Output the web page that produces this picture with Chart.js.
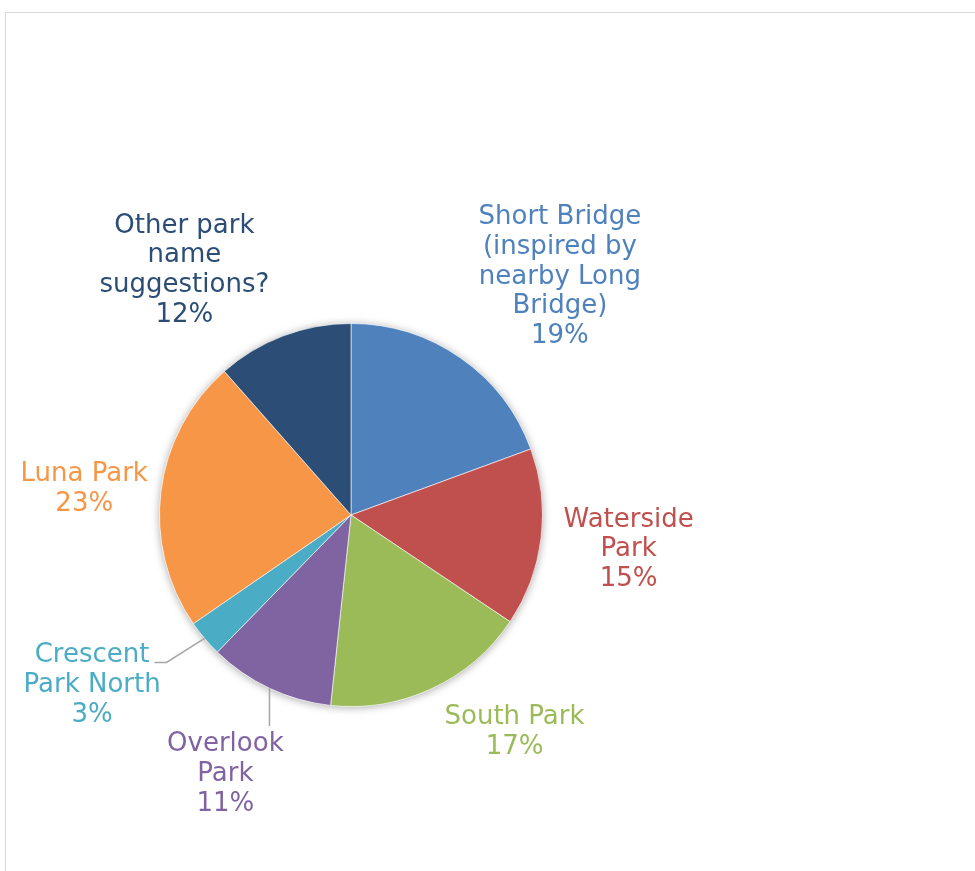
<!DOCTYPE html>
<html>
<head>
<meta charset="utf-8">
<script src="https://cdn.jsdelivr.net/npm/chart.js@4/dist/chart.umd.min.js"></script>
<style>
  body { margin: 0; background: #fff; }
  #frame {
    position: absolute; left: 5px; top: 12px; width: 1000px; height: 900px;
    border-top: 1px solid #d9d9d9; border-left: 1px solid #d9d9d9;
  }
  #parkChart { position: absolute; left: 0; top: 0; }
</style>
</head>
<body>
<div id="frame"></div>
<canvas id="parkChart" width="975" height="871"></canvas>
<script>
// categories (line breaks as in the original labels)
const categories = [
    ["Short Bridge", "(inspired by", "nearby Long", "Bridge)"],
    ["Waterside", "Park"],
    ["South Park"],
    ["Overlook", "Park"],
    ["Crescent", "Park North"],
    ["Luna Park"],
    ["Other park", "name", "suggestions?"]
];
// share of votes, %
const shares = [19.4, 15.0, 17.3, 10.6, 3.1, 23.1, 11.5];
const sliceColors = ["#4F81BD", "#C0504D", "#9BBB59", "#8064A2", "#4BACC6", "#F79646", "#2C4D75"];

// label block centres, in units of the pie radius from the pie centre
const labelOffsets = [
    [1.091, -1.255], [1.450, 0.169], [0.854, 1.122], [-0.656, 1.341],
    [-1.352, 0.878], [-1.393, -0.148], [-0.870, -1.289]
];
// leader lines: null, "top" (straight down to label) or "side" (elbow to the label's first line)
const leaders = [null, null, null, "top", "side", null, null];

const labelFont = "26px 'DejaVu Sans'";
const lineH = 29.7;
const capH = 18;

// soft shadow behind the whole pie
const pieShadow = {
    id: "pieShadow",
    beforeDatasetsDraw(chart) {
        const arc = chart.getDatasetMeta(0).data[0];
        if (!arc) return;
        const ctx = chart.ctx;
        ctx.save();
        ctx.shadowColor = "rgba(0,0,0,0.35)";
        ctx.shadowBlur = 8;
        ctx.shadowOffsetY = 1;
        ctx.fillStyle = "#fff";
        ctx.beginPath();
        ctx.arc(arc.x, arc.y, arc.outerRadius, 0, Math.PI * 2);
        ctx.fill();
        ctx.restore();
    }
};

const outsideLabels = {
    id: "outsideLabels",
    afterDatasetsDraw(chart) {
        const ctx = chart.ctx;
        const meta = chart.getDatasetMeta(0);
        const total = shares.reduce((a, b) => a + b, 0);
        ctx.save();
        ctx.font = labelFont;
        ctx.textAlign = "center";
        ctx.textBaseline = "alphabetic";
        meta.data.forEach((arc, i) => {
            const r = arc.outerRadius;
            const cx = arc.x + labelOffsets[i][0] * r;
            const cy = arc.y + labelOffsets[i][1] * r;
            const lines = categories[i].concat([Math.round(shares[i] / total * 100) + "%"]);
            const firstBase = cy - (lines.length - 1) * lineH / 2 + capH / 2;

            if (leaders[i]) {
                const mid = (arc.startAngle + arc.endAngle) / 2;
                const ex = arc.x + Math.cos(mid) * r;
                const ey = arc.y + Math.sin(mid) * r;
                ctx.strokeStyle = "#a6a6a6";
                ctx.lineWidth = 1.5;
                ctx.beginPath();
                ctx.moveTo(ex, ey);
                if (leaders[i] === "top") {
                    ctx.lineTo(ex, firstBase - capH - 7);
                } else {
                    const w = ctx.measureText(lines[0]).width;
                    const endX = cx + w / 2 + 5;
                    ctx.lineTo(endX + 12, firstBase);
                    ctx.lineTo(endX, firstBase);
                }
                ctx.stroke();
            }

            ctx.fillStyle = sliceColors[i];
            lines.forEach((t, k) => ctx.fillText(t, cx, firstBase + k * lineH));
        });
        ctx.restore();
    }
};

new Chart(document.getElementById("parkChart").getContext("2d"), {
    type: "pie",
    data: {
        labels: categories,
        datasets: [{
            data: shares,
            backgroundColor: sliceColors,
            borderColor: "rgba(255,255,255,0.6)",
            borderWidth: 1
        }]
    },
    options: {
        responsive: false,
        animation: false,
        layout: { padding: { left: 159, top: 323, right: 432, bottom: 164 } },
        plugins: {
            legend: { display: false },
            tooltip: { enabled: false }
        }
    },
    plugins: [pieShadow, outsideLabels]
});
</script>
</body>
</html>
